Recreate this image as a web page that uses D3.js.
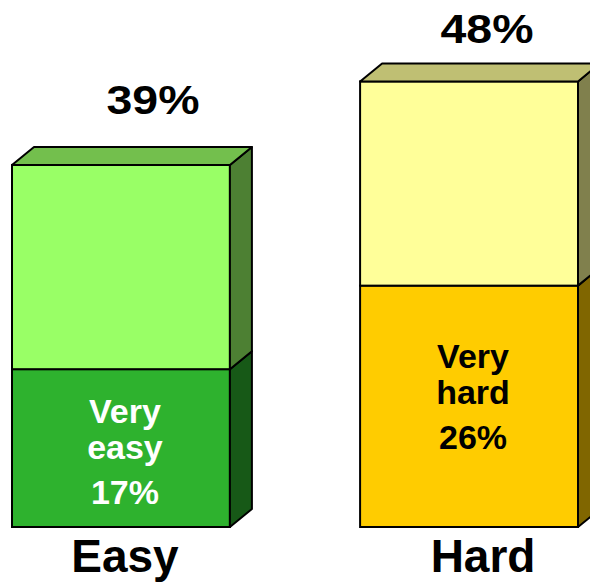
<!DOCTYPE html>
<html><head><meta charset="utf-8">
<script src="https://cdn.jsdelivr.net/npm/d3@7/dist/d3.min.js"></script>
<style>html,body{margin:0;padding:0;background:#fff;}svg{display:block;}</style>
</head><body>
<script>
// ---- data ----
const categories = ["Easy", "Hard"];
const veryValues = [17, 26];
const totalValues = [39, 48];
const innerLabels = [["Very", "easy"], ["Very", "hard"]];

// ---- styles ----
const W = 590, H = 583;
const frontColors = [["#2EB22E", "#99FF66"], ["#FFCC00", "#FFFF99"]];
const shade = (c, k) => { const r = d3.rgb(c); return d3.rgb(r.r * k, r.g * k, r.b * k).formatHex(); };
const depthX = 22, depthY = 18;
const font = "'Liberation Sans', Arial, sans-serif";
const innerColors = ["#FFFFFF", "#000000"];
const innerShift = [2, -11];    // vertical shift of inner label block
const totalShift = [[32, -50], [18, -37]]; // x, y offset of total label from front-top centre

const svg = d3.select("body").append("svg").attr("width", W).attr("height", H);

const x = d3.scaleBand().domain(categories).range([12, 578]).paddingInner(0.374).paddingOuter(0);
const y = d3.scaleLinear().domain([0, 48]).range([527, 81.4]);

categories.forEach((cat, i) => {
  const x0 = x(cat), bw = x.bandwidth();
  const segs = [[0, veryValues[i]], [veryValues[i], totalValues[i]]];
  const g = svg.append("g");
  segs.forEach(([a, b], j) => {
    const yTop = y(b), yBot = y(a);
    const fc = frontColors[i][j];
    g.append("rect").attr("x", x0).attr("y", yTop).attr("width", bw).attr("height", yBot - yTop)
      .attr("fill", fc).attr("stroke", "#000").attr("stroke-width", 2);
    const xr = x0 + bw;
    g.append("path")
      .attr("d", `M${xr},${yBot}L${xr + depthX},${yBot - depthY}L${xr + depthX},${yTop - depthY}L${xr},${yTop}Z`)
      .attr("fill", shade(fc, 0.5)).attr("stroke", "#000").attr("stroke-width", 2).attr("stroke-linejoin", "round");
    if (j === segs.length - 1) {
      g.append("path")
        .attr("d", `M${x0},${yTop}L${x0 + depthX},${yTop - depthY}L${xr + depthX},${yTop - depthY}L${xr},${yTop}Z`)
        .attr("fill", shade(fc, 0.75)).attr("stroke", "#000").attr("stroke-width", 2).attr("stroke-linejoin", "round");
    }
  });

  const mid = (y(0) + y(veryValues[i])) / 2 + innerShift[i];
  const cx = x0 + bw / 2 + 4;
  const lines = [innerLabels[i][0], innerLabels[i][1], veryValues[i] + "%"];
  const baselines = [mid - 27, mid + 9, mid + 54];
  lines.forEach((t, k) => {
    svg.append("text").attr("x", cx).attr("y", baselines[k]).attr("text-anchor", "middle")
      .attr("font-family", font).attr("font-weight", "bold").attr("font-size", 34)
      .attr("fill", innerColors[i]).text(t);
  });

  svg.append("text").attr("x", x0 + bw / 2 + totalShift[i][0]).attr("y", y(totalValues[i]) + totalShift[i][1] - 1)
    .attr("text-anchor", "middle").attr("font-family", font).attr("font-weight", "bold").attr("font-size", 40)
    .attr("textLength", 93).attr("lengthAdjust", "spacingAndGlyphs")
    .attr("fill", "#000").text(totalValues[i] + "%");

  svg.append("text").attr("x", x0 + bw / 2 + 4 + (i === 0 ? 0 : 10)).attr("y", 572)
    .attr("text-anchor", "middle").attr("font-family", font).attr("font-weight", "bold").attr("font-size", 46)
    .attr("fill", "#000").text(cat);
});
</script>
</body></html>
